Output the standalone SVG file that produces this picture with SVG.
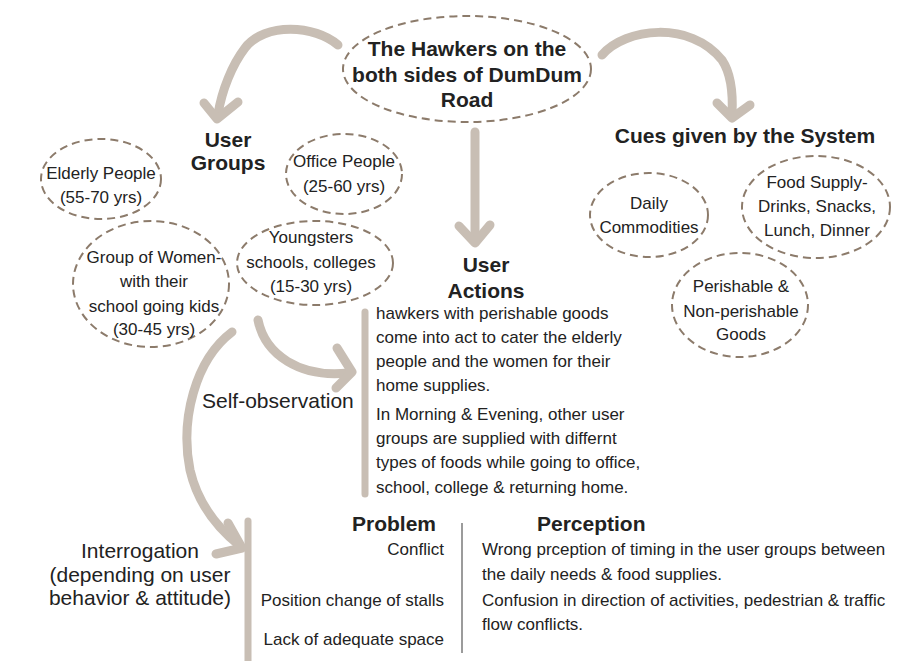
<svg xmlns="http://www.w3.org/2000/svg" width="923" height="661" viewBox="0 0 923 661">
<style>
.bg{fill:#ffffff}
.node{fill:none;stroke:#8c7b6b;stroke-width:2;stroke-dasharray:8 5}
.arrow{fill:none;stroke:#c8beb4;stroke-width:9;stroke-linecap:round;stroke-linejoin:round}
.bar{fill:none;stroke:#c8beb4;stroke-width:7;stroke-linecap:round}
.div{fill:none;stroke:#7a7a7a;stroke-width:1.5}
text{font-family:"Liberation Sans",Arial,sans-serif;fill:#222222}
.h{font-size:21px;font-weight:bold}
.n{font-size:17px}
.m{font-size:17px}
.l{font-size:21px}
.c{text-anchor:middle}
.r{text-anchor:end}
</style>
<rect class="bg" x="0" y="0" width="923" height="661"/>

<g id="connectors">
  <path class="arrow" d="M 338 45 C 315 25, 265 22, 245 48 C 232 65, 222 90, 218 114"/>
  <path class="arrow" d="M 204 103 L 217 119 L 238 102"/>
  <path class="arrow" d="M 602 55 C 625 28, 690 20, 722 60 C 732 75, 733 95, 732 114"/>
  <path class="arrow" d="M 717 103 L 732 118 L 750 105"/>
  <path class="arrow" d="M 475 132 L 475 241"/>
  <path class="arrow" d="M 459 226 L 475 243 L 490 225"/>
  <path class="arrow" d="M 258 320 C 265 355, 300 378, 348 373"/>
  <path class="arrow" d="M 337 348 L 352 372 L 336 388"/>
  <path class="arrow" d="M 232 332 C 195 360, 180 420, 190 470 C 198 505, 220 530, 240 546"/>
  <path class="arrow" d="M 228 523 L 242 548 L 216 554"/>
  <path class="bar" d="M 365 312 L 365 494"/>
  <path class="bar" d="M 248 521 L 248 668"/>
  <path class="div" d="M 462 523 L 462 653"/>
</g>

<g id="main">
  <ellipse class="node" cx="467" cy="69" rx="124" ry="53"/>
  <text class="h c" x="467" y="56">The Hawkers on the</text>
  <text class="h c" x="467" y="82">both sides of DumDum</text>
  <text class="h c" x="467" y="107">Road</text>
</g>

<g id="user-groups-title">
  <text class="h c" x="228" y="147">User</text>
  <text class="h c" x="228" y="170">Groups</text>
</g>

<g id="elderly">
  <ellipse class="node" cx="101" cy="179" rx="60" ry="40"/>
  <text class="n c" x="101" y="179">Elderly People</text>
  <text class="n c" x="101" y="203">(55-70 yrs)</text>
</g>

<g id="office">
  <ellipse class="node" cx="344" cy="174" rx="58" ry="40"/>
  <text class="n c" x="344" y="167">Office People</text>
  <text class="n c" x="344" y="192">(25-60 yrs)</text>
</g>

<g id="women">
  <ellipse class="node" cx="151" cy="284" rx="78" ry="63"/>
  <text class="n c" x="154" y="263">Group of Women-</text>
  <text class="n c" x="154" y="287">with their</text>
  <text class="n c" x="154" y="312">school going kids</text>
  <text class="n c" x="154" y="335">(30-45 yrs)</text>
</g>

<g id="youngsters">
  <ellipse class="node" cx="315" cy="263" rx="78" ry="42"/>
  <text class="n c" x="311" y="243">Youngsters</text>
  <text class="n c" x="311" y="268">schools, colleges</text>
  <text class="n c" x="311" y="292">(15-30 yrs)</text>
</g>

<g id="user-actions">
  <text class="h c" x="486" y="272">User</text>
  <text class="h c" x="486" y="298">Actions</text>
  <text class="n" x="376" y="319">hawkers with perishable goods</text>
  <text class="n" x="376" y="343">come into act to cater the elderly</text>
  <text class="n" x="376" y="367">people and the women for their</text>
  <text class="n" x="376" y="391">home supplies.</text>
  <text class="n" x="376" y="420">In Morning &amp; Evening, other user</text>
  <text class="n" x="376" y="444">groups are supplied with differnt</text>
  <text class="n" x="376" y="468">types of foods while going to office,</text>
  <text class="n" x="376" y="493">school, college &amp; returning home.</text>
</g>

<g id="cues-title">
  <text class="h c" x="745" y="143">Cues given by the System</text>
</g>

<g id="daily">
  <ellipse class="node" cx="649" cy="215" rx="59" ry="42"/>
  <text class="n c" x="649" y="209">Daily</text>
  <text class="n c" x="649" y="233">Commodities</text>
</g>

<g id="food">
  <ellipse class="node" cx="816" cy="207" rx="74" ry="51"/>
  <text class="n c" x="817" y="188">Food Supply-</text>
  <text class="n c" x="817" y="212">Drinks, Snacks,</text>
  <text class="n c" x="817" y="236">Lunch, Dinner</text>
</g>

<g id="perishable">
  <ellipse class="node" cx="740" cy="305" rx="68" ry="52"/>
  <text class="n c" x="741" y="292">Perishable &amp;</text>
  <text class="n c" x="741" y="317">Non-perishable</text>
  <text class="n c" x="741" y="340">Goods</text>
</g>

<g id="self-observation">
  <text class="l" x="202" y="408">Self-observation</text>
</g>

<g id="interrogation">
  <text class="l c" x="140" y="558">Interrogation</text>
  <text class="l c" x="140" y="582">(depending on user</text>
  <text class="l c" x="140" y="605">behavior &amp; attitude)</text>
</g>

<g id="problem">
  <text class="h r" x="436" y="531">Problem</text>
  <text class="m r" x="444" y="555">Conflict</text>
  <text class="m r" x="444" y="606">Position change of stalls</text>
  <text class="m r" x="444" y="645">Lack of adequate space</text>
</g>

<g id="perception">
  <text class="h" x="537" y="531">Perception</text>
  <text class="m" x="482" y="555">Wrong prception of timing in the user groups between</text>
  <text class="m" x="482" y="580">the daily needs &amp; food supplies.</text>
  <text class="m" x="482" y="606">Confusion in direction of activities, pedestrian &amp; traffic</text>
  <text class="m" x="482" y="630">flow conflicts.</text>
</g>
</svg>
